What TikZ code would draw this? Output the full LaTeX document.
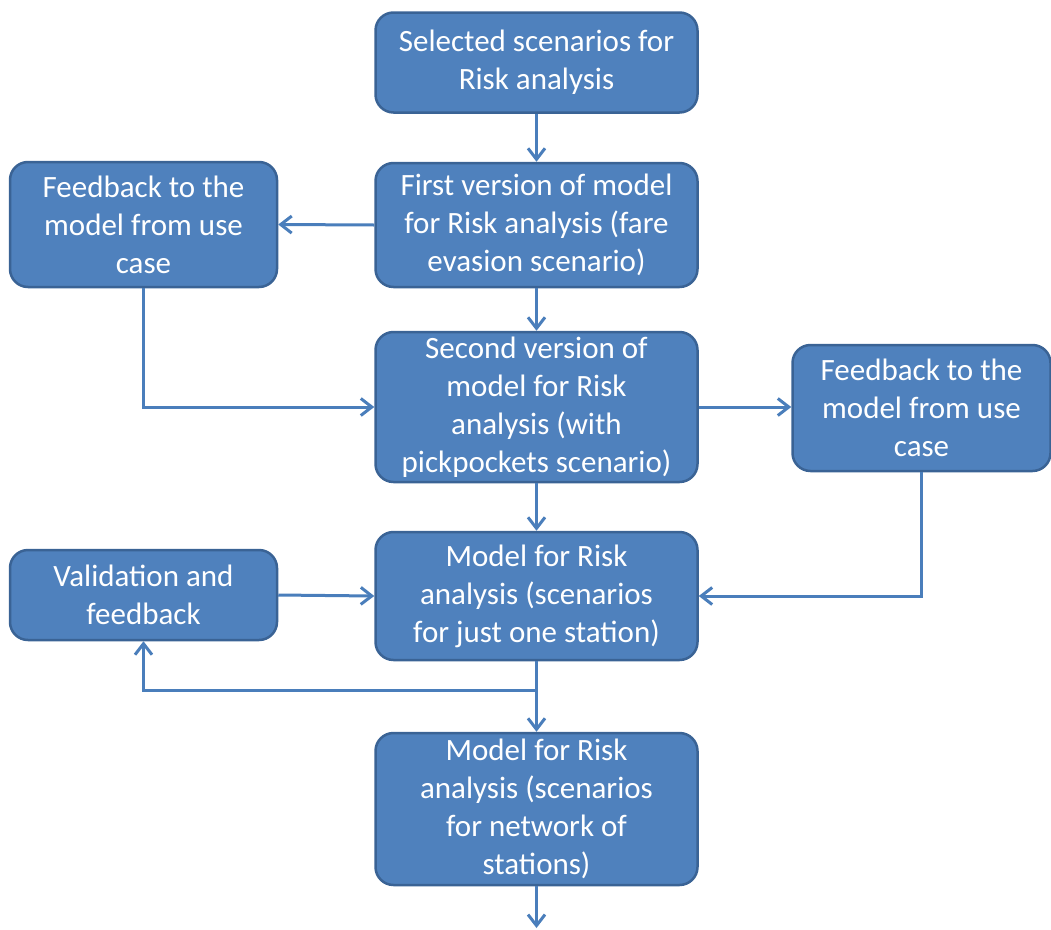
\documentclass[tikz,border=0pt]{standalone}
\usepackage{fontspec}
\setmainfont{Carlito}
\usetikzlibrary{arrows.meta}
\definecolor{boxfill}{HTML}{4F81BD}
\definecolor{boxline}{HTML}{3A6395}
\definecolor{flowline}{HTML}{4A7EBB}
\begin{document}
\begin{tikzpicture}[x=1pt,y=-1pt,
  stagebox/.style={draw=boxline, line width=2.5pt, fill=boxfill, rounded corners=18pt,
    text=white, align=center, inner sep=0pt,
    font=\fontsize{31}{38}\selectfont},
  flow/.style={draw=flowline, line width=3pt,
    -{Straight Barb[length=11pt,width=17pt,line width=3pt]}},
  flowline/.style={draw=flowline, line width=3pt}
]
\useasboundingbox (0,0) rectangle (1051,929);

% main column
\node[stagebox, minimum width=322pt, minimum height=100pt] (sel) at (536.5,62.5)
  {Selected scenarios for\\Risk analysis};
\node[stagebox, minimum width=322pt, minimum height=124pt] (first) at (536.5,225)
  {First version of model\\for Risk analysis (fare\\evasion scenario)};
\node[stagebox, minimum width=322pt, minimum height=150pt] (second) at (536.5,407)
  {Second version of\\model for Risk\\analysis (with\\pickpockets scenario)};
\node[stagebox, minimum width=322pt, minimum height=128pt] (one) at (536.5,596)
  {Model for Risk\\analysis (scenarios\\for just one station)};
\node[stagebox, minimum width=322pt, minimum height=152pt] (net) at (536.5,809)
  {Model for Risk\\analysis (scenarios\\for network of\\stations)};

% side boxes
\node[stagebox, minimum width=267pt, minimum height=125pt] (fbleft) at (143.5,224.5)
  {Feedback to the\\model from use\\case};
\node[stagebox, minimum width=258pt, minimum height=126pt] (fbright) at (921.5,408)
  {Feedback to the\\model from use\\case};
\node[stagebox, minimum width=267pt, minimum height=90pt] (valid) at (143.5,595)
  {Validation and\\feedback};

% free ends of connectors
\coordinate (split) at (536.5,690);
\coordinate (out) at (536.5,928);

% connectors
\draw[flow] (sel) -- (first);
\draw[flow] (first) -- (second);
\draw[flow] (second) -- (one);
\draw[flow] (one) -- (net);
\draw[flow] (net) -- (out);
\draw[flow] (first.west) -- (fbleft.east);
\draw[flow] (fbleft.south) |- (second.west);
\draw[flow] (second.east) -- (fbright.west |- second.east);
\draw[flow] (fbright.south) |- (one.east);
\draw[flow] (valid.east) -- (one.west);
\draw[flow] (split) -| (valid.south);
\end{tikzpicture}
\end{document}
